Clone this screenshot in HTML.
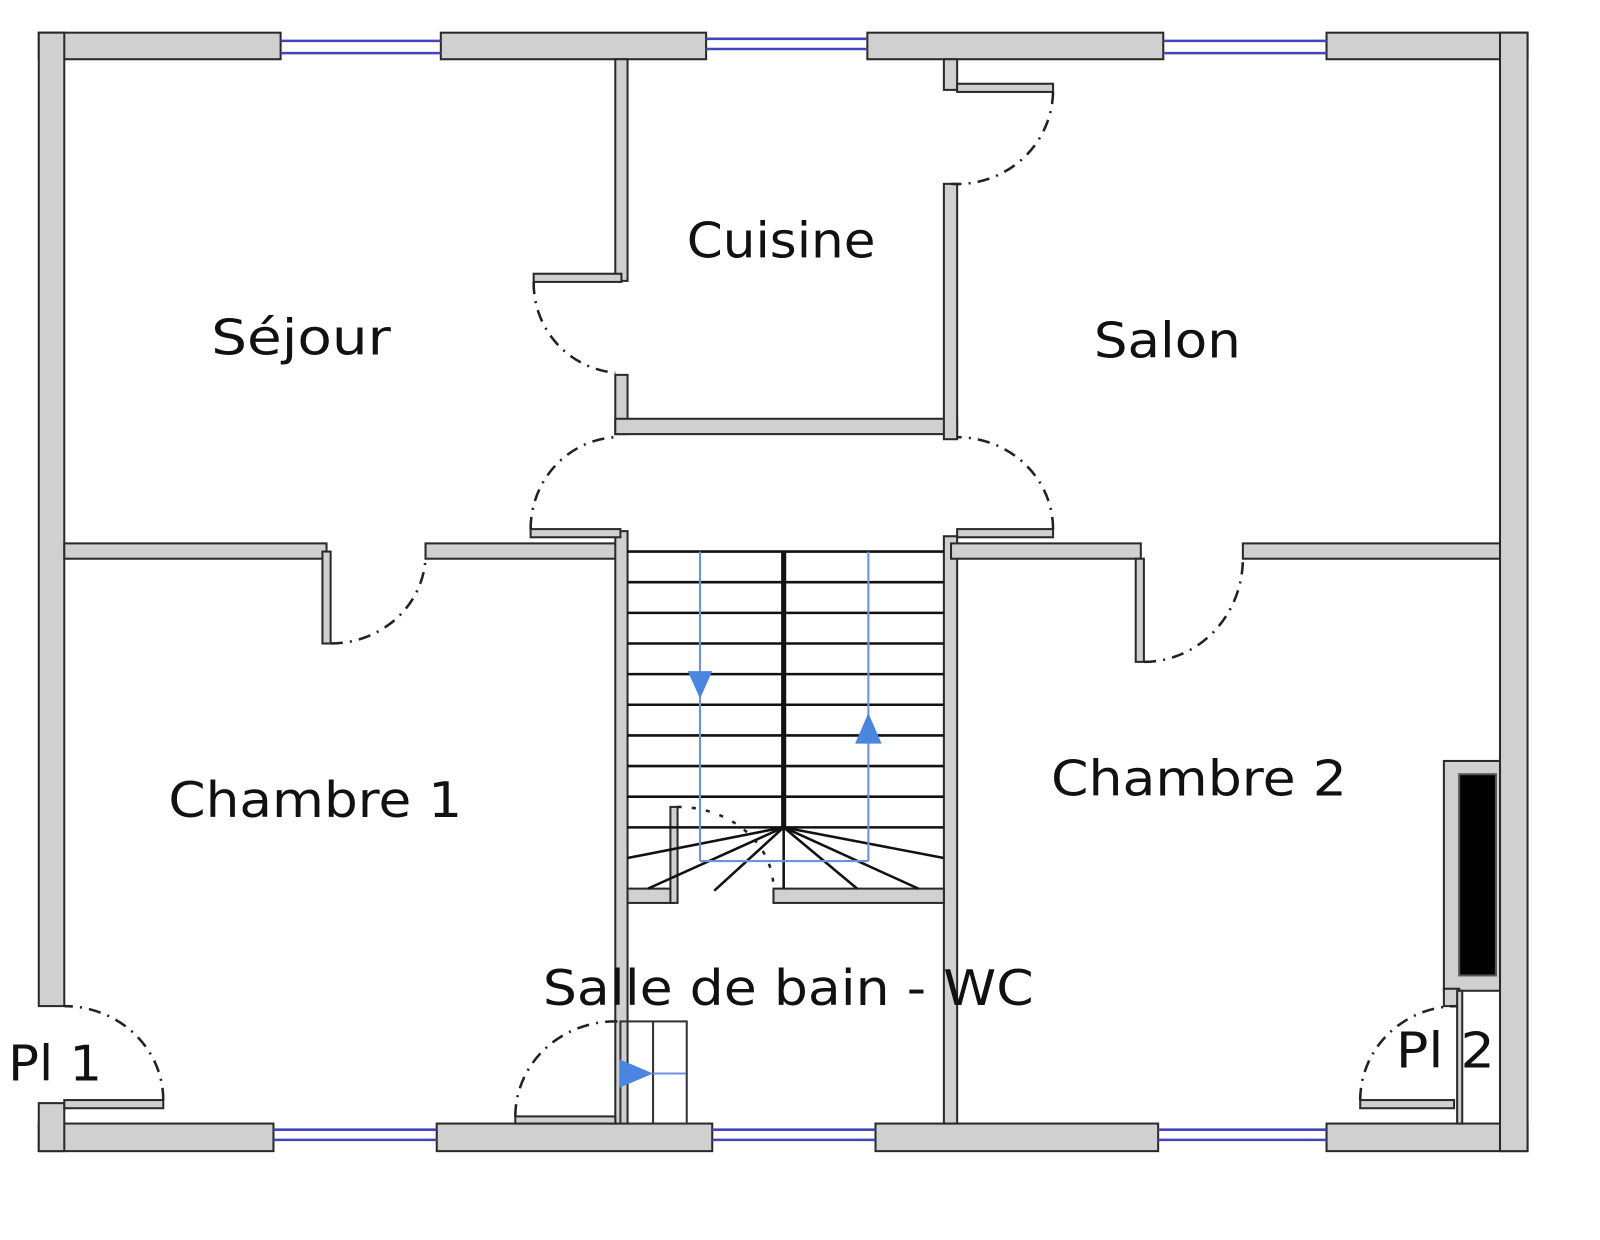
<!DOCTYPE html>
<html><head><meta charset="utf-8"><style>
html,body{margin:0;padding:0;background:#fff;}
svg{display:block;}
text{font-family:"DejaVu Sans","Liberation Sans",sans-serif;font-size:48px;fill:#111;}
</style></head><body>
<svg width="1600" height="1240" viewBox="0 0 1568 1214" preserveAspectRatio="none" xmlns="http://www.w3.org/2000/svg">
<rect width="1568" height="1214" fill="#fff"/>
<g fill="#d0d0d0" stroke="#2a2a2a" stroke-width="2">
<rect x="38" y="32" width="237" height="26"/>
<rect x="432" y="32" width="260" height="26"/>
<rect x="850" y="32" width="290" height="26"/>
<rect x="1300" y="32" width="197" height="26"/>
<rect x="38" y="1100" width="230" height="27"/>
<rect x="428" y="1100" width="270" height="27"/>
<rect x="858" y="1100" width="277" height="27"/>
<rect x="1300" y="1100" width="197" height="27"/>
<rect x="38" y="32" width="25" height="953"/>
<rect x="38" y="1080" width="25" height="47"/>
<rect x="1470" y="32" width="27" height="1095"/>
<rect x="63" y="532" width="257" height="15"/>
<rect x="417" y="532" width="192" height="15"/>
<rect x="603" y="58" width="12" height="217"/>
<rect x="603" y="367" width="12" height="58"/>
<rect x="603" y="410" width="335" height="15"/>
<rect x="603" y="520" width="12" height="580"/>
<rect x="925" y="58" width="13" height="30"/>
<rect x="925" y="180" width="13" height="250"/>
<rect x="925" y="525" width="13" height="575"/>
<rect x="932" y="532" width="186" height="15"/>
<rect x="1218" y="532" width="252" height="15"/>
<rect x="615" y="870" width="45" height="14"/>
<rect x="758" y="870" width="167" height="14"/>
<rect x="1415" y="745" width="55" height="225"/>
<rect x="1415" y="968" width="15" height="17"/>
<rect x="1428" y="970" width="5" height="130"/>
<rect x="523" y="268" width="86" height="8"/>
<rect x="520" y="518" width="88" height="8"/>
<rect x="938" y="518" width="94" height="8"/>
<rect x="938" y="82" width="94" height="8"/>
<rect x="316" y="540" width="8" height="90"/>
<rect x="1113" y="547" width="8" height="101"/>
<rect x="63" y="1077" width="97" height="8"/>
<rect x="1333" y="1077" width="92" height="8"/>
<rect x="505" y="1093" width="98" height="7"/>
<rect x="657" y="790" width="7" height="94"/>
</g>
<rect x="1430" y="758" width="36" height="197" fill="#000" stroke="#555" stroke-width="2"/>
<g stroke="#4444bb" stroke-width="2.5">
<line x1="275" y1="40" x2="432" y2="40"/><line x1="275" y1="52" x2="432" y2="52"/>
<line x1="692" y1="38" x2="850" y2="38"/><line x1="692" y1="48" x2="850" y2="48"/>
<line x1="1140" y1="40" x2="1300" y2="40"/><line x1="1140" y1="52" x2="1300" y2="52"/>
<line x1="268" y1="1106" x2="428" y2="1106"/><line x1="268" y1="1116" x2="428" y2="1116"/>
<line x1="698" y1="1106" x2="858" y2="1106"/><line x1="698" y1="1116" x2="858" y2="1116"/>
<line x1="1135" y1="1106" x2="1300" y2="1106"/><line x1="1135" y1="1116" x2="1300" y2="1116"/>
</g>
<g fill="none" stroke="#222" stroke-width="2.5" stroke-dasharray="12 7 2 7">
<path d="M523 276 A88 88 0 0 0 603 365"/>
<path d="M520 518 A88 90 0 0 1 603 428"/>
<path d="M1032 518 A94 90 0 0 0 938 428"/>
<path d="M1032 90 A94 92 0 0 1 932 180"/>
<path d="M324 630 A93 88 0 0 0 417 547"/>
<path d="M1121 648 A97 101 0 0 0 1218 547"/>
<path d="M160 1077 A97 92 0 0 0 63 985"/>
<path d="M1333 1077 A95 92 0 0 1 1428 985"/>
<path d="M505 1093 A98 93 0 0 1 605 1000"/>
<path d="M664 790 A94 80 0 0 1 758 870" stroke-dasharray="4 10"/>
</g>
<g stroke="#111" stroke-width="2.5">
<line x1="615" y1="540" x2="925" y2="540"/>
<line x1="615" y1="570" x2="925" y2="570"/>
<line x1="615" y1="600" x2="925" y2="600"/>
<line x1="615" y1="630" x2="925" y2="630"/>
<line x1="615" y1="660" x2="925" y2="660"/>
<line x1="615" y1="690" x2="925" y2="690"/>
<line x1="615" y1="720" x2="925" y2="720"/>
<line x1="615" y1="750" x2="925" y2="750"/>
<line x1="615" y1="780" x2="925" y2="780"/>
<line x1="615" y1="810" x2="925" y2="810"/>
<line x1="768" y1="810" x2="615" y2="840"/>
<line x1="768" y1="810" x2="635" y2="870"/>
<line x1="768" y1="810" x2="700" y2="872"/>
<line x1="768" y1="810" x2="768" y2="870"/>
<line x1="768" y1="810" x2="840" y2="870"/>
<line x1="768" y1="810" x2="900" y2="870"/>
<line x1="768" y1="810" x2="925" y2="840"/>
</g>
<line x1="768" y1="540" x2="768" y2="812" stroke="#111" stroke-width="5"/>
<g stroke="#6f8fe0" stroke-width="2">
<line x1="686" y1="540" x2="686" y2="843"/>
<line x1="851" y1="540" x2="851" y2="843"/>
<line x1="686" y1="843" x2="851" y2="843"/>
</g>
<polygon points="674,657 698,657 686,684" fill="#4a86e0"/>
<polygon points="838,728 864,728 851,698" fill="#4a86e0"/>
<g fill="none" stroke="#333" stroke-width="2">
<rect x="608" y="1000" width="65" height="100"/>
<line x1="640" y1="1000" x2="640" y2="1100"/>
</g>
<line x1="640" y1="1051" x2="672" y2="1051" stroke="#6f8fe0" stroke-width="2"/>
<polygon points="607,1037 607,1065 640,1051" fill="#4a86e0"/>
<text x="207" y="347" textLength="176" lengthAdjust="spacingAndGlyphs">Séjour</text>
<text x="673" y="252" textLength="185" lengthAdjust="spacingAndGlyphs">Cuisine</text>
<text x="1072" y="350" textLength="144" lengthAdjust="spacingAndGlyphs">Salon</text>
<text x="165" y="800" textLength="288" lengthAdjust="spacingAndGlyphs">Chambre 1</text>
<text x="1030" y="779" textLength="290" lengthAdjust="spacingAndGlyphs">Chambre 2</text>
<text x="532" y="984" textLength="481" lengthAdjust="spacingAndGlyphs">Salle de bain - WC</text>
<text x="8" y="1058" textLength="92" lengthAdjust="spacingAndGlyphs">Pl 1</text>
<text x="1368" y="1045" textLength="97" lengthAdjust="spacingAndGlyphs">Pl 2</text>
</svg>
</body></html>
